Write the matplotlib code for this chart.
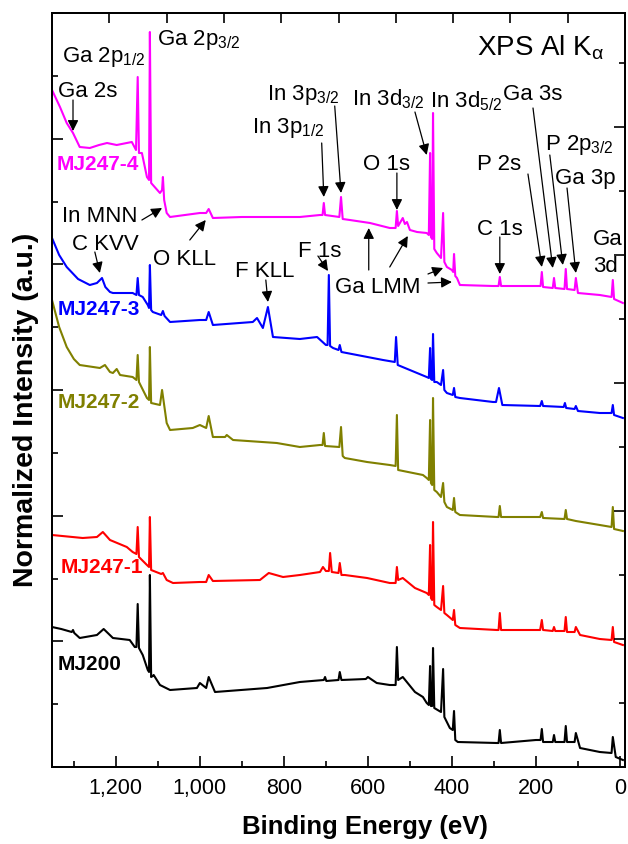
import numpy as np
import matplotlib
matplotlib.use('Agg')
import matplotlib.pyplot as plt
from matplotlib.ticker import FixedLocator

plt.rcParams['font.family'] = ['Liberation Sans', 'DejaVu Sans']
plt.rcParams['mathtext.fontset'] = 'custom'
plt.rcParams['mathtext.rm'] = 'Liberation Sans'
plt.rcParams['mathtext.it'] = 'Liberation Sans:italic'
plt.rcParams['mathtext.bf'] = 'Liberation Sans:bold'
plt.rcParams['axes.linewidth'] = 1.2

# spectra: (binding energy eV, normalized intensity a.u.)
mj247_4 = np.array([
    (1352, 6.77), (1333, 6.60), (1317, 6.44), (1302, 6.34), (1286, 6.20), (1262, 6.19),
    (1240, 6.22), (1221, 6.24), (1198, 6.22), (1162, 6.25), (1152, 6.17), (1148, 6.90),
    (1145, 6.14), (1138, 6.14), (1126, 5.90), (1121, 5.87), (1119, 7.35), (1116, 5.84),
    (1095, 5.74), (1090, 5.77), (1088, 5.90), (1085, 5.67), (1079, 5.54), (1071, 5.50),
    (1000, 5.54), (985, 5.54), (979, 5.58), (969, 5.49), (900, 5.50), (762, 5.50),
    (714, 5.52), (708, 5.52), (705, 5.64), (702, 5.52), (668, 5.50), (664, 5.70),
    (660, 5.48), (643, 5.47), (595, 5.44), (548, 5.39), (534, 5.39), (531, 5.56),
    (528, 5.41), (517, 5.49), (512, 5.43), (507, 5.45), (500, 5.37), (483, 5.35),
    (460, 5.34), (455, 5.32), (452, 6.14), (450, 5.30), (447, 5.28), (445, 6.54),
    (442, 5.18), (436, 5.14), (426, 5.09), (421, 5.54), (418, 5.05), (412, 5.00),
    (400, 4.97), (397, 4.95), (395, 5.13), (392, 4.91), (388, 4.89), (381, 4.82),
    (302, 4.81), (289, 4.81), (286, 4.90), (283, 4.81), (207, 4.81), (189, 4.81),
    (186, 4.95), (183, 4.80), (160, 4.79), (157, 4.89), (154, 4.79), (132, 4.78),
    (129, 4.98), (126, 4.78), (108, 4.77), (105, 4.89), (100, 4.74), (48, 4.72),
    (20, 4.70), (17, 4.87), (14, 4.68), (-7, 4.64)])

mj247_3 = np.array([
    (1352, 5.29), (1335, 5.12), (1317, 5.00), (1290, 4.88), (1262, 4.82), (1245, 4.84),
    (1233, 4.89), (1225, 4.80), (1214, 4.75), (1207, 4.74), (1160, 4.74), (1151, 4.72),
    (1148, 4.89), (1145, 4.72), (1136, 4.70), (1124, 4.62), (1121, 4.59), (1119, 5.02),
    (1116, 4.57), (1112, 4.55), (1092, 4.52), (1088, 4.56), (1084, 4.51), (1071, 4.45),
    (1000, 4.47), (985, 4.47), (979, 4.55), (969, 4.42), (874, 4.45), (864, 4.49),
    (850, 4.39), (838, 4.60), (826, 4.30), (762, 4.28), (721, 4.30), (700, 4.22),
    (696, 4.22), (693, 4.92), (690, 4.21), (683, 4.19), (670, 4.17), (667, 4.22),
    (663, 4.15), (564, 4.07), (536, 4.05), (533, 4.30), (529, 4.02), (460, 3.90),
    (455, 3.89), (452, 4.19), (450, 3.88), (447, 3.87), (445, 4.33), (442, 3.85),
    (436, 3.85), (426, 3.82), (421, 3.97), (418, 3.77), (412, 3.74), (398, 3.72),
    (395, 3.79), (392, 3.70), (381, 3.69), (302, 3.65), (295, 3.65), (288, 3.79),
    (280, 3.62), (190, 3.61), (186, 3.66), (183, 3.61), (134, 3.60), (131, 3.64),
    (128, 3.59), (108, 3.58), (105, 3.61), (100, 3.56), (48, 3.54), (20, 3.54),
    (17, 3.62), (14, 3.52), (-7, 3.49)])

mj247_2 = np.array([
    (1352, 4.67), (1335, 4.40), (1317, 4.20), (1300, 4.08), (1286, 4.02), (1238, 3.99),
    (1226, 4.02), (1214, 3.95), (1207, 3.94), (1198, 3.98), (1190, 3.92), (1160, 3.90),
    (1151, 3.87), (1148, 4.12), (1145, 3.85), (1126, 3.69), (1121, 3.67), (1119, 4.20),
    (1116, 3.64), (1095, 3.62), (1090, 3.77), (1079, 3.44), (1071, 3.37), (1017, 3.39),
    (1000, 3.42), (985, 3.39), (979, 3.51), (969, 3.30), (940, 3.30), (936, 3.32),
    (921, 3.27), (817, 3.24), (762, 3.20), (714, 3.22), (708, 3.22), (705, 3.34),
    (702, 3.21), (668, 3.20), (664, 3.40), (660, 3.11), (655, 3.09), (602, 3.05),
    (548, 3.02), (534, 3.01), (531, 3.52), (528, 2.97), (469, 2.92), (460, 2.89),
    (455, 2.87), (452, 3.47), (450, 2.84), (447, 2.82), (445, 3.69), (442, 2.77),
    (436, 2.75), (426, 2.70), (421, 2.84), (418, 2.65), (412, 2.60), (398, 2.57),
    (395, 2.69), (392, 2.55), (381, 2.52), (293, 2.50), (289, 2.50), (286, 2.61),
    (283, 2.50), (190, 2.50), (186, 2.55), (183, 2.49), (132, 2.48), (129, 2.57),
    (126, 2.48), (105, 2.46), (48, 2.42), (20, 2.40), (17, 2.60), (14, 2.38), (-7, 2.36)])

mj247_1 = np.array([
    (1352, 2.32), (1279, 2.29), (1245, 2.30), (1231, 2.35), (1214, 2.27), (1174, 2.20),
    (1160, 2.15), (1151, 2.13), (1148, 2.40), (1145, 2.10), (1126, 2.02), (1121, 2.00),
    (1119, 2.50), (1116, 1.97), (1092, 1.93), (1088, 1.94), (1079, 1.87), (1064, 1.84),
    (1000, 1.85), (985, 1.85), (979, 1.92), (969, 1.86), (857, 1.87), (836, 1.94),
    (802, 1.90), (762, 1.92), (714, 1.95), (707, 2.00), (700, 1.96), (693, 1.96),
    (690, 2.14), (686, 1.95), (670, 1.94), (667, 2.04), (663, 1.92), (655, 1.92),
    (602, 1.89), (548, 1.84), (534, 1.84), (531, 2.00), (528, 1.87), (517, 1.89),
    (488, 1.79), (460, 1.74), (455, 1.72), (452, 2.22), (450, 1.69), (447, 1.67),
    (445, 2.45), (442, 1.62), (436, 1.60), (426, 1.57), (421, 1.81), (418, 1.54),
    (412, 1.52), (398, 1.47), (395, 1.57), (392, 1.42), (381, 1.39), (293, 1.37),
    (289, 1.37), (286, 1.54), (283, 1.37), (190, 1.37), (186, 1.47), (183, 1.37),
    (160, 1.36), (157, 1.40), (154, 1.36), (132, 1.36), (129, 1.50), (126, 1.35),
    (108, 1.35), (105, 1.40), (95, 1.32), (48, 1.28), (20, 1.27), (17, 1.40),
    (14, 1.25), (-7, 1.22)])

mj200 = np.array([
    (1352, 1.40), (1330, 1.38), (1305, 1.35), (1302, 1.37), (1299, 1.34), (1286, 1.29),
    (1245, 1.32), (1229, 1.38), (1207, 1.29), (1167, 1.27), (1155, 1.20), (1151, 1.20),
    (1148, 1.63), (1145, 1.19), (1136, 1.12), (1124, 0.97), (1121, 0.95), (1119, 1.92),
    (1116, 0.90), (1112, 0.91), (1110, 0.92), (1095, 0.82), (1071, 0.77), (1007, 0.79),
    (1000, 0.84), (985, 0.79), (979, 0.90), (964, 0.75), (840, 0.79), (762, 0.85),
    (705, 0.87), (702, 0.90), (699, 0.86), (670, 0.87), (667, 0.95), (663, 0.87),
    (605, 0.88), (600, 0.90), (579, 0.84), (548, 0.82), (534, 0.82), (531, 1.20),
    (528, 0.87), (517, 0.90), (488, 0.75), (469, 0.70), (460, 0.64), (455, 0.62),
    (452, 1.01), (450, 0.61), (447, 0.61), (445, 1.19), (442, 0.59), (426, 0.55),
    (421, 0.98), (418, 0.50), (405, 0.39), (398, 0.37), (395, 0.56), (392, 0.27),
    (386, 0.25), (293, 0.24), (289, 0.24), (286, 0.37), (283, 0.24), (200, 0.27),
    (189, 0.27), (186, 0.38), (183, 0.25), (176, 0.25), (160, 0.25), (157, 0.32),
    (154, 0.25), (132, 0.25), (129, 0.41), (126, 0.25), (108, 0.25), (105, 0.34),
    (95, 0.19), (48, 0.15), (20, 0.14), (17, 0.30), (10, 0.10), (-7, 0.07)])

spectra = [mj247_4, mj247_3, mj247_2, mj247_1, mj200]
sample_names = ['MJ247-4', 'MJ247-3', 'MJ247-2', 'MJ247-1', 'MJ200']
colors = ['#ff00ff', '#0000ff', '#808000', '#ff0000', '#000000']
# label anchor (eV, a.u.) next to each spectrum
name_pos = [(1340, 5.97), (1338, 4.52), (1338, 3.59), (1331, 1.94), (1338, 0.97)]

x_ticks = [1200, 1000, 800, 600, 400, 200, 0]
x_tick_labels = ['1,200', '1,000', '800', '600', '400', '200', '0']

# peak labels: text, text anchor (eV, a.u.)
peak_labels = [
    ('Ga 2s', (1338, 6.70)),
    ('Ga 2p$_{1/2}$', (1329, 7.05)),
    ('Ga 2p$_{3/2}$', (1102, 7.22)),
    ('In 3p$_{3/2}$', (840, 6.67)),
    ('In 3p$_{1/2}$', (876, 6.34)),
    ('In 3d$_{3/2}$', (638, 6.62)),
    ('In 3d$_{5/2}$', (452, 6.60)),
    ('O 1s', (612, 5.97)),
    ('Ga LMM', (679, 4.74)),
    ('C 1s', (340, 5.32)),
    ('P 2s', (340, 5.97)),
    ('Ga 3s', (279, 6.67)),
    ('P 2p$_{3/2}$', (179, 6.17)),
    ('Ga 3p', (155, 5.83)),
    ('Ga', (64, 5.22)),
    ('3d', (64, 4.95)),
    ('In MNN', (1329, 5.45)),
    ('C KVV', (1305, 5.17)),
    ('O KLL', (1112, 5.02)),
    ('F KLL', (917, 4.90)),
    ('F 1s', (767, 5.10)),
]
# arrows: tail (eV, a.u.) -> head (eV, a.u.)
arrows = [
    ((1302, 6.67), (1302, 6.36)),
    ((679, 6.61), (664, 5.74)),
    ((710, 6.24), (705, 5.70)),
    ((488, 6.55), (460, 6.12)),
    ((531, 5.94), (531, 5.57)),
    ((598, 4.97), (598, 5.39)),
    ((548, 5.00), (505, 5.31)),
    ((457, 4.93), (421, 4.99)),
    ((457, 4.84), (400, 4.85)),
    ((286, 5.30), (286, 4.93)),
    ((219, 5.93), (186, 5.00)),
    ((207, 6.59), (160, 4.99)),
    ((167, 6.12), (136, 5.02)),
    ((126, 5.79), (105, 4.94)),
    ((1138, 5.47), (1090, 5.59)),
    ((1250, 5.15), (1238, 4.94)),
    ((1024, 5.27), (986, 5.47)),
    ((843, 4.87), (838, 4.65)),
    ((719, 5.11), (695, 4.96)),
]

fig = plt.figure(figsize=(6.28, 8.44), dpi=100)
ax = fig.add_axes([52 / 628, 1 - 767 / 844, 573 / 628, 754 / 844])

for data, c in zip(spectra, colors):
    ax.plot(data[:, 0], data[:, 1], color=c, lw=1.5)

for name, (ex, iy), c in zip(sample_names, name_pos, colors):
    ax.text(ex, iy, name, color=c, fontsize=15, fontweight='bold', ha='left', va='baseline')

for txt, (ex, iy) in peak_labels:
    ax.text(ex, iy, txt, fontsize=16, ha='left', va='baseline')

for tail, head in arrows:
    ax.annotate('', xy=head, xytext=tail,
                arrowprops=dict(arrowstyle='-|>', color='black', lw=0.9,
                                mutation_scale=16, shrinkA=0, shrinkB=0))

ax.text(340, 7.12, 'XPS Al K$_{\\mathrm{α}}$', fontsize=20, ha='left', va='baseline')

ax.set_xlim(1352, -12)
ax.set_ylim(0, 7.54)
ax.set_xticks(x_ticks)
ax.set_xticklabels(x_tick_labels)
ax.xaxis.set_minor_locator(FixedLocator(np.arange(1300, -1, -200)))
ax.yaxis.set_major_locator(FixedLocator(np.linspace(0, 7.54, 7)))
ax.yaxis.set_minor_locator(FixedLocator(np.linspace(0, 7.54, 13)))
ax.tick_params(which='both', direction='in', top=False, right=False, labelleft=False,
               width=1.2, labelsize=15.5, pad=8)
ax.tick_params(which='major', length=8)
ax.tick_params(which='minor', length=4.5)

ax.set_xlabel('Binding Energy (eV)', fontsize=18.5, fontweight='bold')
ax.xaxis.set_label_coords(0.546, -0.064)
ax.set_ylabel('Normalized Intensity (a.u.)', fontsize=20.5, fontweight='bold')
ax.yaxis.set_label_coords(-0.023, 0.4735)

# right axis ticks
ax_r = ax.twinx()
ax_r.set_ylim(0, 7.54)
ax_r.yaxis.set_major_locator(FixedLocator(np.arange(1.28, 7.54, 1.28)))
ax_r.yaxis.set_minor_locator(FixedLocator(np.arange(0.64, 7.54, 1.28)))
ax_r.tick_params(which='both', direction='in', labelright=False, width=1.2)
ax_r.tick_params(which='major', length=8)
ax_r.tick_params(which='minor', length=4.5)

# top axis ticks
ax_t = ax.twiny()
ax_t.set_xlim(0, 10)
ax_t.set_xticks(np.arange(1, 10))
ax_t.tick_params(direction='in', labeltop=False, length=7, width=1.2)

fig.savefig('out.png', dpi=100)
